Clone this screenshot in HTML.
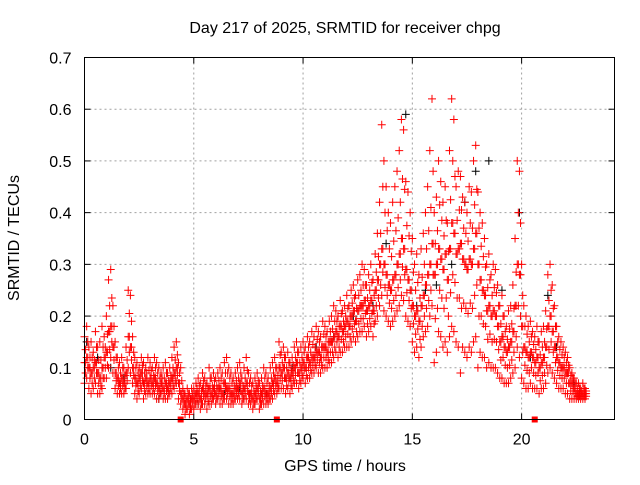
<!DOCTYPE html>
<html><head><meta charset="utf-8"><style>
body{margin:0;background:#fff}
svg text{font-family:"Liberation Sans",sans-serif;font-size:16px;fill:#000}
</style></head><body>
<svg id="chart" width="640" height="480" xmlns="http://www.w3.org/2000/svg">
<text x="345" y="33" text-anchor="middle">Day 217 of 2025, SRMTID for receiver chpg</text>
<text x="345" y="471" text-anchor="middle">GPS time / hours</text>
<text transform="translate(19,238) rotate(-90)" text-anchor="middle">SRMTID / TECUs</text>
<g id="grid"></g>
<g id="ticks"></g>
<g id="marks"></g>
<rect x="84.5" y="57.5" width="530" height="362" fill="none" stroke="#000" stroke-width="1"/>
</svg>
<script>
const xTicks=[0,5,10,15,20];
const yTicks=[0,0.1,0.2,0.3,0.4,0.5,0.6,0.7];
const yTickLabels=["0","0.1","0.2","0.3","0.4","0.5","0.6","0.7"];
const tStart=0, tStep=0.1;
const redHi=[.16,.18,.14,.15,.13,.17,.14,.15,.18,.16,
.20,.27,.29,.22,.15,.12,.11,.12,.10,.14,
.25,.24,.16,.12,.11,.10,.12,.11,.10,.12,
.11,.10,.12,.11,.10,.09,.10,.11,.09,.10,
.12,.14,.15,.11,.10,.06,.05,.06,.05,.06,
.06,.07,.08,.07,.09,.08,.07,.10,.08,.09,
.08,.09,.10,.09,.11,.12,.10,.09,.08,.09,
.10,.11,.08,.10,.12,.09,.08,.07,.08,.09,
.07,.08,.10,.09,.08,.10,.11,.12,.10,.15,
.13,.14,.12,.13,.11,.12,.14,.15,.13,.14,
.15,.14,.16,.15,.17,.16,.18,.17,.16,.19,
.18,.17,.19,.20,.22,.21,.20,.23,.21,.22,
.24,.22,.25,.26,.24,.27,.28,.30,.29,.26,
.28,.30,.27,.32,.36,.42,.57,.50,.45,.40,
.38,.42,.45,.48,.52,.58,.56,.46,.44,.40,
.35,.30,.32,.28,.33,.36,.40,.45,.52,.62,
.40,.43,.50,.46,.42,.45,.38,.52,.62,.58,
.45,.48,.47,.43,.42,.40,.45,.44,.50,.53,
.44,.40,.38,.35,.30,.32,.28,.30,.29,.26,
.22,.24,.20,.18,.21,.22,.26,.35,.50,.48,
.30,.22,.20,.18,.19,.17,.16,.18,.15,.17,
.18,.21,.28,.30,.26,.22,.18,.16,.15,.14,
.13,.12,.10,.09,.08,.07,.07,.06,.07,.06];
const redMid=[.11,.12,.10,.09,.10,.11,.09,.08,.10,.12,
.13,.17,.18,.14,.09,.08,.07,.08,.07,.09,
.16,.14,.10,.08,.07,.08,.09,.07,.08,.07,
.08,.07,.08,.07,.06,.07,.06,.07,.06,.07,
.08,.09,.10,.07,.05,.04,.03,.04,.03,.04,
.04,.05,.05,.04,.06,.05,.05,.06,.05,.06,
.05,.06,.06,.05,.07,.06,.06,.05,.05,.06,
.06,.07,.05,.06,.07,.05,.05,.04,.05,.06,
.04,.05,.06,.05,.05,.06,.07,.08,.07,.10,
.09,.10,.08,.09,.08,.09,.10,.11,.09,.10,
.11,.10,.12,.11,.12,.12,.13,.13,.12,.14,
.14,.13,.15,.15,.16,.17,.16,.18,.17,.18,
.19,.18,.20,.21,.19,.21,.22,.22,.23,.21,
.22,.23,.21,.25,.27,.30,.33,.30,.28,.26,
.25,.27,.28,.30,.32,.35,.33,.29,.27,.25,
.22,.20,.21,.19,.22,.24,.26,.28,.30,.34,
.28,.30,.33,.31,.29,.32,.27,.33,.38,.36,
.32,.33,.34,.31,.30,.29,.31,.30,.33,.36,
.30,.27,.25,.24,.21,.22,.20,.21,.20,.18,
.15,.16,.14,.13,.14,.15,.17,.22,.30,.28,
.18,.14,.13,.12,.13,.12,.11,.12,.10,.11,
.12,.14,.18,.20,.17,.14,.12,.11,.10,.10,
.09,.09,.07,.07,.06,.05,.05,.05,.05,.05];
const redLo=[.07,.08,.06,.05,.06,.07,.05,.05,.06,.08,
.08,.10,.12,.09,.06,.05,.05,.05,.05,.06,
.10,.09,.07,.05,.04,.05,.06,.04,.05,.05,
.05,.05,.05,.04,.04,.05,.04,.04,.04,.05,
.05,.06,.07,.04,.03,.02,.01,.02,.01,.02,
.02,.03,.03,.02,.03,.03,.02,.03,.03,.04,
.03,.04,.03,.03,.04,.04,.03,.03,.03,.04,
.04,.04,.03,.04,.04,.03,.03,.02,.03,.04,
.02,.03,.03,.03,.03,.04,.04,.05,.05,.06,
.06,.06,.05,.06,.05,.06,.07,.07,.06,.07,
.08,.07,.08,.08,.09,.09,.10,.09,.09,.10,
.10,.10,.11,.11,.12,.13,.12,.13,.13,.14,
.14,.14,.15,.16,.15,.16,.17,.17,.18,.16,
.17,.18,.16,.19,.20,.22,.24,.21,.20,.19,
.18,.19,.20,.21,.22,.24,.23,.20,.19,.18,
.15,.13,.14,.12,.14,.16,.17,.18,.20,.22,
.11,.13,.17,.16,.14,.15,.13,.16,.18,.17,
.15,.14,.09,.14,.13,.12,.14,.13,.15,.16,
.10,.13,.12,.12,.10,.11,.10,.10,.10,.09,
.08,.08,.07,.07,.07,.08,.09,.10,.14,.12,
.08,.07,.06,.06,.07,.06,.06,.06,.05,.06,
.06,.07,.09,.10,.09,.08,.07,.06,.06,.06,
.05,.05,.04,.04,.04,.04,.04,.04,.04,.04];
const blackT=[0.1,0.6,1.2,1.8,3.4,5.2,6.4,7.1,8.3,9.5,10.6,11.4,12.3,13.2,13.8,14.3,14.7,15.2,15.6,16.1,16.8,17.4,17.9,18.5,19.1,19.9,20.4,21.2,21.6,22.4];
const blackV=[0.15,0.12,0.10,0.08,0.04,0.03,0.05,0.06,0.05,0.10,0.14,0.16,0.20,0.22,0.34,0.30,0.59,0.22,0.25,0.26,0.30,0.42,0.48,0.50,0.25,0.40,0.12,0.24,0.14,0.07];
const flagT=[4.4,8.8,20.6];

const X0=84.5,X1=614.5,Y0=419.5,Y1=57.5,XMAX=24.25,YMAX=0.7;
const xs=t=>X0+t/XMAX*(X1-X0);
const ys=v=>Y0-v/YMAX*(Y0-Y1);
const NS="http://www.w3.org/2000/svg";
const grid=document.getElementById('grid'),ticks=document.getElementById('ticks'),marks=document.getElementById('marks');
function mk(tag,attrs,parent){const e=document.createElementNS(NS,tag);for(const k in attrs)e.setAttribute(k,attrs[k]);parent.appendChild(e);return e;}
xTicks.forEach(t=>{
  const x=xs(t);
  if(t>0){const g=mk('line',{x1:x,x2:x,y1:Y1,y2:Y0,stroke:'#a0a0a0','stroke-dasharray':'2,3'},grid);
  
  }
  const l=mk('text',{x:x,y:Y0+25,'text-anchor':'middle'},ticks);l.textContent=t;
  
  
  mk('line',{x1:x,x2:x,y1:Y0,y2:Y0-6,stroke:'#000'},ticks);mk('line',{x1:x,x2:x,y1:Y1,y2:Y1+6,stroke:'#000'},ticks);
});
yTicks.forEach((v,i)=>{
  const y=ys(v);
  if(v>0&&v<YMAX){const g=mk('line',{x1:X0,x2:X1,y1:y,y2:y,stroke:'#a0a0a0','stroke-dasharray':'2,3'},grid);
  
  }
  const l=mk('text',{x:X0-13,y:y+6,'text-anchor':'end'},ticks);l.textContent=yTickLabels[i];
  
  
  mk('line',{x1:X0,x2:X0+6,y1:y,y2:y,stroke:'#000'},ticks);mk('line',{x1:X1,x2:X1-6,y1:y,y2:y,stroke:'#000'},ticks);
});
function plus(t,v,c,name){
  const x=xs(t),y=ys(v);
  const p=mk('path',{d:`M${x-4} ${y}H${x+4}M${x} ${y-4}V${y+4}`,stroke:c,'stroke-width':1,fill:'none'},marks);
  
  
}
blackT.forEach((t,i)=>plus(t,blackV[i],'#000','black-point'));
[redLo,redMid,redHi].forEach(arr=>arr.forEach((v,i)=>{
  const t=tStart+i*tStep;
  plus(t,v,'#ff0000','red-point');
  plus(t+0.05,(v+redMid[i])/2,'#ff0000','red-point');
}));
flagT.forEach(t=>{
  const r=mk('rect',{x:xs(t)-3,y:Y0-3,width:6,height:6,fill:'#ff0000'},marks);
  
  
});
</script>
</body></html>
